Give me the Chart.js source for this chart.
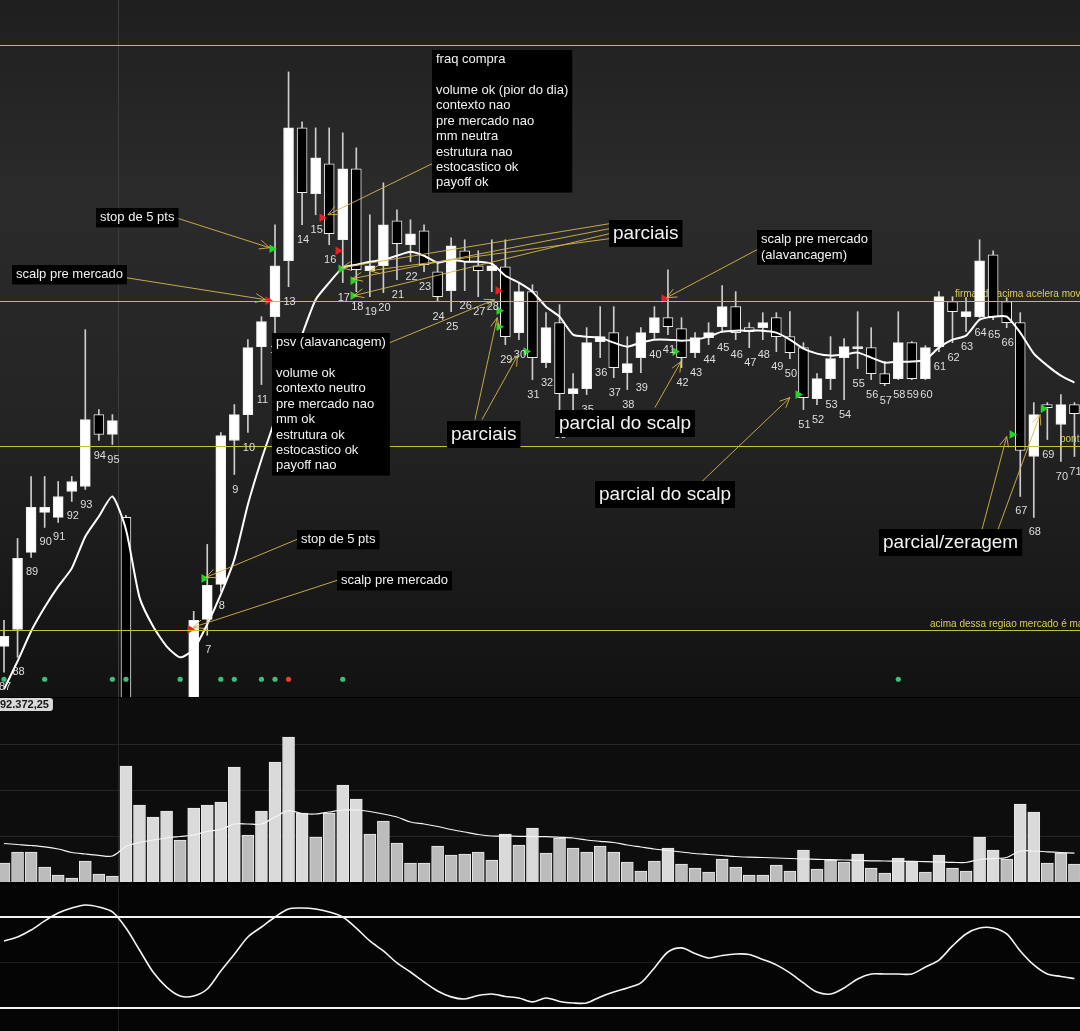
<!DOCTYPE html>
<html>
<head>
<meta charset="utf-8">
<script src="https://cdn.jsdelivr.net/npm/chart.js@4.4.1/dist/chart.umd.min.js"></script>
<style>
  html, body { margin: 0; padding: 0; background: #000; width: 1080px; height: 1031px; overflow: hidden; }
  canvas { position: absolute; left: 0; }
  #price { top: 0; }
  #volume { top: 698px; }
  #stoch { top: 885px; }
</style>
</head>
<body>
<canvas id="price" width="1080" height="697"></canvas>
<canvas id="volume" width="1080" height="184"></canvas>
<canvas id="stoch" width="1080" height="146"></canvas>
<script>
// one entry per candle, left to right (previous day 87..95, then today 1..71)
const candleLabels = [
  "87","88","89","90","91","92","93","94","95",
  "1","2","3","4","5","6","7","8","9","10","11","12","13","14","15","16","17","18","19","20",
  "21","22","23","24","25","26","27","28","29","30","31","32","33","34","35","36","37","38","39","40",
  "41","42","43","44","45","46","47","48","49","50","51","52","53","54","55","56","57","58","59","60",
  "61","62","63","64","65","66","67","68","69","70","71"
];
const opens = [
  92423,92440,92517,92557,92552,92578,92583,92655,92635,92552,
  92230,92150,92180,92220,92300,92450,92485,92629,92655,92723,
  92753,92809,92942,92876,92906,92830,92901,92799,92804,92849,
  92825,92839,92798,92779,92819,92804,92799,92803,92737,92778,
  92707,92747,92676,92681,92728,92737,92697,92712,92737,92752,
  92741,92717,92732,92743,92763,92742,92742,92752,92733,92722,
  92671,92691,92712,92721,92722,92696,92691,92727,92691,92723,
  92768,92753,92753,92815,92768,92747,92613,92665,92645,92665
];
const highs = [
  92449,92531,92593,92593,92588,92593,92740,92660,92655,92554,
  92260,92210,92240,92300,92458,92525,92637,92665,92730,92753,
  92845,92998,92948,92942,92942,92937,92922,92855,92887,92860,
  92850,92845,92807,92832,92830,92819,92830,92830,92787,92785,
  92757,92765,92696,92742,92763,92763,92733,92742,92763,92800,
  92752,92737,92747,92784,92778,92747,92757,92757,92758,92727,
  92696,92733,92731,92758,92742,92708,92758,92728,92724,92778,
  92773,92772,92830,92819,92772,92757,92667,92667,92675,92667
];
const lows = [
  92397,92412,92512,92542,92547,92568,92580,92629,92625,92200,
  92120,92100,92140,92200,92280,92434,92478,92595,92637,92685,
  92735,92783,92845,92855,92825,92787,92778,92773,92777,92790,
  92808,92798,92768,92758,92779,92773,92778,92725,92730,92690,
  92702,92650,92655,92675,92712,92692,92680,92697,92730,92735,
  92702,92712,92725,92737,92730,92722,92730,92718,92711,92660,
  92665,92680,92670,92701,92690,92684,92690,92690,92690,92718,
  92727,92738,92752,92750,92742,92573,92552,92630,92608,92613
];
const closes = [
  92433,92511,92562,92562,92573,92588,92650,92635,92649,92230,
  92150,92180,92220,92290,92449,92484,92634,92655,92722,92748,
  92804,92942,92877,92912,92836,92901,92800,92804,92845,92826,
  92836,92805,92773,92824,92808,92799,92804,92733,92778,92712,
  92742,92676,92681,92727,92733,92702,92706,92737,92752,92743,
  92712,92732,92737,92763,92737,92738,92747,92733,92717,92672,
  92691,92711,92723,92722,92696,92686,92727,92691,92722,92773,
  92758,92758,92809,92753,92747,92619,92655,92662,92665,92656
];
// moving average drawn over the candles
const priceMA = [
  92380,92408,92438,92462,92483,92501,92533,92553,92573,92540,
  92472,92443,92423,92412,92420,92445,92475,92510,92565,92610,
  92650,92695,92735,92770,92787,92802,92805,92808,92810,92814,
  92818,92814,92807,92810,92808,92808,92806,92794,92787,92778,
  92763,92753,92735,92733,92732,92727,92723,92727,92730,92730,
  92729,92730,92733,92738,92739,92739,92739,92737,92730,92721,
  92716,92714,92715,92717,92712,92707,92708,92708,92710,92722,
  92730,92734,92750,92753,92753,92737,92716,92704,92694,92687
];
const volumes = [
  1900,3000,3000,1500,700,400,2100,800,600,11600,
  7700,6500,7100,4200,7400,7700,8000,11500,4700,7100,
  12000,14500,6900,4500,6900,9700,8300,4800,6100,3900,
  1900,1900,3600,2700,2800,3000,2200,4800,3700,5400,
  2900,4400,3400,3000,3600,3000,2000,1100,2100,3400,
  1800,1400,1000,2300,1500,700,700,1700,1100,3200,
  1300,2200,2000,2800,1400,900,2400,2100,1000,2700,
  1400,1100,4500,3200,2300,7800,7000,1900,2900,1800
];
const volumeMA = [
  3850,3750,3650,3520,3300,2950,2800,2670,2600,3550,
  3950,4200,4400,4550,4700,5050,5250,5800,5800,5800,
  6500,7130,6850,6800,7000,7200,7200,7050,6800,6500,
  6000,5800,5550,5250,5000,4750,4600,4600,4570,4550,
  4530,4470,4400,4200,4070,3950,3700,3500,3300,3150,
  3000,2850,2750,2650,2550,2480,2450,2400,2350,2300,
  2270,2230,2200,2160,2120,2100,2080,2060,2040,2000,
  1960,1950,2250,2340,2450,3100,3100,3020,2950,2880
];
const stochK = [
  64.2,66.8,71.4,77.4,82.6,85.9,87.9,86.6,83.3,72.7,
  58.2,43.7,33.8,27.9,27.9,32.5,44.4,55.4,66.8,73.4,
  80,85.3,85.9,85.3,83.3,80,72.7,64.2,57.6,49.7,
  43.7,37.1,31.2,27.3,25.9,28.2,29.2,27.6,26.6,24,
  26.6,24.3,23.3,23.3,27.3,30.5,33.2,36.5,46.4,56.9,
  59.6,55.9,53,54.6,55.6,55.3,52,48.4,43.1,36.5,
  30.5,29.2,33.2,39.1,42.4,42.4,42.4,42.4,47,51.6,
  60.9,68.8,72.7,72.7,68.8,57.6,48.4,42.4,40.8,39.4
];

// signal triangles (candle position, price)
const buySlots = [14.76, 19.78, 24.87, 25.76, 25.76, 36.53, 36.53, 38.52, 49.52, 58.6, 74.4, 76.7];
const buyPrices = [92491, 92821, 92801, 92789, 92774, 92759, 92743, 92718, 92718, 92675, 92635, 92661];
const sellSlots = [13.73, 19.48, 23.47, 24.65, 36.46, 48.71];
const sellPrices = [92440, 92769, 92852, 92819, 92779, 92771];
// dots along the bottom of the price panel
const dotGreenSlots = [0, 3, 8, 9, 13, 16, 17, 19, 20, 25, 66];
const dotRedSlots = [21];
const dotRowPrice = 92390;

const priceLevels = [93025, 92769, 92624, 92439];
const levelNotes = [
  { slot: 70.18, level: 92769, text: "firmando acima acelera movimento" },
  { slot: 68.34, level: 92439, text: "acima dessa regiao mercado é mais forte" },
  { slot: 77.93, level: 92624, text: "ponto de" }
];
const volumeGrid = [4600, 9200, 13800];
const stochBands = [20, 80];
const lastPriceLabel = "92.372,25";
const daySplit = 8.4;

const noteBoxes = [
  { slot: 6.79, price: 92862, size: 13, lines: ["stop de 5 pts"] },
  { slot: 0.59, price: 92805, size: 13, lines: ["scalp pre mercado"] },
  { slot: 31.59, price: 93020, size: 13, lines: ["fraq compra", "", "volume ok (pior do dia)", "contexto nao", "pre mercado nao", "mm neutra", "estrutura nao", "estocastico ok", "payoff ok"] },
  { slot: 19.78, price: 92737, size: 13, lines: ["psv (alavancagem)", "", "volume ok", "contexto neutro", "pre mercado nao", "mm ok", "estrutura ok", "estocastico ok", "payoff nao"] },
  { slot: 44.65, price: 92850, size: 19, lines: ["parciais"] },
  { slot: 32.69, price: 92649, size: 19, lines: ["parciais"] },
  { slot: 40.66, price: 92660, size: 19, lines: ["parcial do scalp"] },
  { slot: 43.62, price: 92588, size: 19, lines: ["parcial do scalp"] },
  { slot: 55.57, price: 92840, size: 13, lines: ["scalp pre mercado", "(alavancagem)"] },
  { slot: 21.62, price: 92539, size: 13, lines: ["stop de 5 pts"] },
  { slot: 24.58, price: 92498, size: 13, lines: ["scalp pre mercado"] },
  { slot: 64.58, price: 92540, size: 19, lines: ["parcial/zeragem"] }
];
const noteArrows = [
  { from: [12.69, 92852], to: [19.6, 92822] },
  { from: [9.0, 92792], to: [19.3, 92770] },
  { from: [31.73, 92907], to: [23.9, 92855] },
  { from: [44.65, 92846], to: [24.9, 92802] },
  { from: [44.65, 92841], to: [25.7, 92791] },
  { from: [44.65, 92836], to: [25.8, 92774] },
  { from: [44.65, 92831], to: [27.0, 92799] },
  { from: [28.12, 92725], to: [36.2, 92770] },
  { from: [55.57, 92820], to: [48.9, 92772] },
  { from: [34.76, 92650], to: [36.4, 92752] },
  { from: [35.28, 92650], to: [37.9, 92714] },
  { from: [48.04, 92662], to: [49.96, 92708] },
  { from: [51.51, 92588], to: [58.0, 92672] },
  { from: [72.18, 92540], to: [74.0, 92633] },
  { from: [73.36, 92540], to: [76.46, 92655] },
  { from: [21.62, 92530], to: [14.9, 92492] },
  { from: [24.58, 92489], to: [13.95, 92442] }
];

const FONT = '"Liberation Sans", Arial, sans-serif';
const X_MIN = -0.2952;
const X_MAX = 79.41;
const slots = candleLabels.map((_, i) => i);

function baseOptions(yMin, yMax) {
  return {
    responsive: false,
    animation: false,
    devicePixelRatio: 1,
    events: [],
    layout: { padding: 0, autoPadding: false },
    plugins: { legend: { display: false }, tooltip: { enabled: false } },
    scales: {
      x: { type: "linear", min: X_MIN, max: X_MAX, offset: false, bounds: "data", display: false },
      y: { type: "linear", min: yMin, max: yMax, beginAtZero: false, bounds: "data", display: false }
    }
  };
}

function daySplitLine(chart, color) {
  const ctx = chart.ctx;
  const x = Math.round(chart.scales.x.getPixelForValue(daySplit)) + 0.5;
  ctx.save();
  ctx.strokeStyle = color;
  ctx.lineWidth = 1;
  ctx.beginPath();
  ctx.moveTo(x, chart.chartArea.top);
  ctx.lineTo(x, chart.chartArea.bottom);
  ctx.stroke();
  ctx.restore();
}

function hLine(chart, value, color, width) {
  const ctx = chart.ctx;
  const y = Math.round(chart.scales.y.getPixelForValue(value)) + (width % 2 ? 0.5 : 0);
  ctx.save();
  ctx.strokeStyle = color;
  ctx.lineWidth = width;
  ctx.beginPath();
  ctx.moveTo(chart.chartArea.left, y);
  ctx.lineTo(chart.chartArea.right, y);
  ctx.stroke();
  ctx.restore();
}

// price panel decorations
const pricePanel = {
  id: "pricePanel",
  beforeDraw(chart) {
    const { ctx, chartArea: a } = chart;
    const g = ctx.createLinearGradient(0, a.top, 0, a.bottom);
    g.addColorStop(0, "#1f1f1f");
    g.addColorStop(0.28, "#2b2b2b");
    g.addColorStop(0.6, "#242424");
    g.addColorStop(1, "#121212");
    ctx.save();
    ctx.fillStyle = g;
    ctx.fillRect(a.left, a.top, a.right - a.left, a.bottom - a.top);
    ctx.restore();
  },
  beforeDatasetsDraw(chart) {
    daySplitLine(chart, "#3c3c3c");
    const { ctx, scales: { x, y } } = chart;
    ctx.save();
    ctx.font = "10px " + FONT;
    ctx.fillStyle = "#d8cf4c";
    ctx.textBaseline = "bottom";
    levelNotes.forEach(n => ctx.fillText(n.text, x.getPixelForValue(n.slot), y.getPixelForValue(n.level) - 1));
    ctx.restore();
  },
  afterDatasetsDraw(chart) {
    priceLevels.forEach(v => hLine(chart, v, "#cdbd36", 1));
    const { ctx, chartArea: a, scales: { x, y } } = chart;
    ctx.save();
    ctx.beginPath();
    ctx.rect(a.left, a.top, a.right - a.left, a.bottom - a.top);
    ctx.clip();
    ctx.font = "11px " + FONT;
    ctx.fillStyle = "#dedede";
    ctx.textAlign = "center";
    ctx.textBaseline = "middle";
    slots.forEach(i => ctx.fillText(candleLabels[i], x.getPixelForValue(i) + 1, y.getPixelForValue(lows[i]) + 15));
    ctx.restore();
  },
  afterDraw(chart) {
    const { ctx, scales: { x, y } } = chart;
    ctx.save();
    ctx.strokeStyle = "rgba(214,182,74,0.9)";
    ctx.lineWidth = 1;
    noteArrows.forEach(a => {
      const x0 = x.getPixelForValue(a.from[0]), y0 = y.getPixelForValue(a.from[1]);
      const x1 = x.getPixelForValue(a.to[0]), y1 = y.getPixelForValue(a.to[1]);
      const ang = Math.atan2(y1 - y0, x1 - x0);
      ctx.beginPath();
      ctx.moveTo(x0, y0);
      ctx.lineTo(x1, y1);
      ctx.moveTo(x1 - 11 * Math.cos(ang - 0.42), y1 - 11 * Math.sin(ang - 0.42));
      ctx.lineTo(x1, y1);
      ctx.lineTo(x1 - 11 * Math.cos(ang + 0.42), y1 - 11 * Math.sin(ang + 0.42));
      ctx.stroke();
    });
    noteBoxes.forEach(b => {
      const small = b.size < 16;
      const lh = small ? 15.4 : 21;
      const padX = 4;
      const padY = small ? 2 : 3;
      ctx.font = b.size + "px " + FONT;
      const w = Math.max(...b.lines.map(t => ctx.measureText(t).width)) + padX * 2;
      const h = b.lines.length * lh + padY * 2;
      const bx = Math.round(x.getPixelForValue(b.slot));
      const by = Math.round(y.getPixelForValue(b.price));
      ctx.fillStyle = "#000";
      ctx.fillRect(bx, by, w, h);
      ctx.fillStyle = "#f2f2f2";
      ctx.textBaseline = "middle";
      ctx.textAlign = "left";
      b.lines.forEach((t, k) => ctx.fillText(t, bx + padX, by + padY + lh * (k + 0.5)));
    });
    ctx.restore();
  }
};

new Chart(document.getElementById("price"), {
  type: "bar",
  data: {
    datasets: [
      {
        label: "wick",
        data: slots.map(i => ({ x: i, y: [lows[i], highs[i]] })),
        backgroundColor: "#cdcdcd",
        barThickness: 1,
        grouped: false,
        order: 4
      },
      {
        label: "body",
        data: slots.map(i => ({ x: i, y: [opens[i], closes[i]] })),
        backgroundColor: slots.map(i => (closes[i] >= opens[i] ? "#ffffff" : "#000000")),
        borderColor: "#ececec",
        borderWidth: 1,
        borderSkipped: false,
        barThickness: 10,
        minBarLength: 2,
        grouped: false,
        order: 3
      },
      {
        type: "line",
        label: "mm",
        data: slots.map(i => ({ x: i, y: priceMA[i] })),
        borderColor: "#ffffff",
        borderWidth: 2,
        pointRadius: 0,
        tension: 0.2,
        order: 2
      },
      {
        type: "line",
        label: "compra",
        data: buySlots.map((s, k) => ({ x: s, y: buyPrices[k] })),
        showLine: false,
        pointStyle: "triangle",
        pointRotation: 90,
        pointRadius: 5,
        pointBackgroundColor: "#25d425",
        pointBorderWidth: 0,
        order: 1
      },
      {
        type: "line",
        label: "venda",
        data: sellSlots.map((s, k) => ({ x: s, y: sellPrices[k] })),
        showLine: false,
        pointStyle: "triangle",
        pointRotation: 90,
        pointRadius: 5,
        pointBackgroundColor: "#f01e1e",
        pointBorderWidth: 0,
        order: 1
      },
      {
        type: "line",
        label: "dots",
        data: dotGreenSlots.map(s => ({ x: s, y: dotRowPrice })),
        showLine: false,
        pointRadius: 2.6,
        pointBackgroundColor: "#3cbf7c",
        pointBorderWidth: 0,
        order: 1
      },
      {
        type: "line",
        label: "dotsRed",
        data: dotRedSlots.map(s => ({ x: s, y: dotRowPrice })),
        showLine: false,
        pointRadius: 2.6,
        pointBackgroundColor: "#e5412f",
        pointBorderWidth: 0,
        order: 1
      }
    ]
  },
  options: baseOptions(92372.25, 93070),
  plugins: [pricePanel]
});

// volume panel
const volumePanel = {
  id: "volumePanel",
  beforeDraw(chart) {
    const { ctx, chartArea: a } = chart;
    ctx.save();
    ctx.fillStyle = "#0d0d0d";
    ctx.fillRect(a.left, a.top, a.right - a.left, a.bottom - a.top);
    ctx.restore();
  },
  beforeDatasetsDraw(chart) {
    volumeGrid.forEach(v => hLine(chart, v, "#262626", 1));
    daySplitLine(chart, "#262626");
  },
  afterDraw(chart) {
    const ctx = chart.ctx;
    ctx.save();
    ctx.font = "bold 11px " + FONT;
    const w = ctx.measureText(lastPriceLabel).width;
    ctx.fillStyle = "#d9d9d9";
    ctx.beginPath();
    ctx.roundRect(-4, 0, w + 8, 13, 3);
    ctx.fill();
    ctx.fillStyle = "#151515";
    ctx.textBaseline = "middle";
    ctx.fillText(lastPriceLabel, 0, 7);
    ctx.restore();
  }
};

new Chart(document.getElementById("volume"), {
  type: "bar",
  data: {
    datasets: [
      {
        label: "volume",
        data: slots.map(i => ({ x: i, y: volumes[i] })),
        backgroundColor: slots.map(i => (volumes[i] > volumeMA[i] ? "#dadada" : "#bcbcbc")),
        borderColor: "#e9e9e9",
        borderWidth: 1,
        borderSkipped: "bottom",
        barThickness: 12,
        grouped: false,
        order: 2
      },
      {
        type: "line",
        label: "media volume",
        data: slots.map(i => ({ x: i, y: volumeMA[i] })),
        borderColor: "#f4f4f4",
        borderWidth: 1.2,
        pointRadius: 0,
        tension: 0.3,
        order: 1
      }
    ]
  },
  options: baseOptions(0, 18400),
  plugins: [volumePanel]
});

// stochastic panel
const stochPanel = {
  id: "stochPanel",
  beforeDraw(chart) {
    const { ctx, chartArea: a } = chart;
    ctx.save();
    ctx.fillStyle = "#050505";
    ctx.fillRect(a.left, a.top, a.right - a.left, a.bottom - a.top);
    ctx.restore();
  },
  beforeDatasetsDraw(chart) {
    hLine(chart, 50, "#1d1d1d", 1);
    daySplitLine(chart, "#1d1d1d");
    stochBands.forEach(v => hLine(chart, v, "#f2f2f2", 2));
  }
};

new Chart(document.getElementById("stoch"), {
  type: "line",
  data: {
    datasets: [
      {
        label: "estocastico",
        data: slots.map(i => ({ x: i, y: stochK[i] })),
        borderColor: "#f4f4f4",
        borderWidth: 1.6,
        pointRadius: 0,
        tension: 0.3
      }
    ]
  },
  options: baseOptions(4.8, 101.1),
  plugins: [stochPanel]
});
</script>
</body>
</html>
